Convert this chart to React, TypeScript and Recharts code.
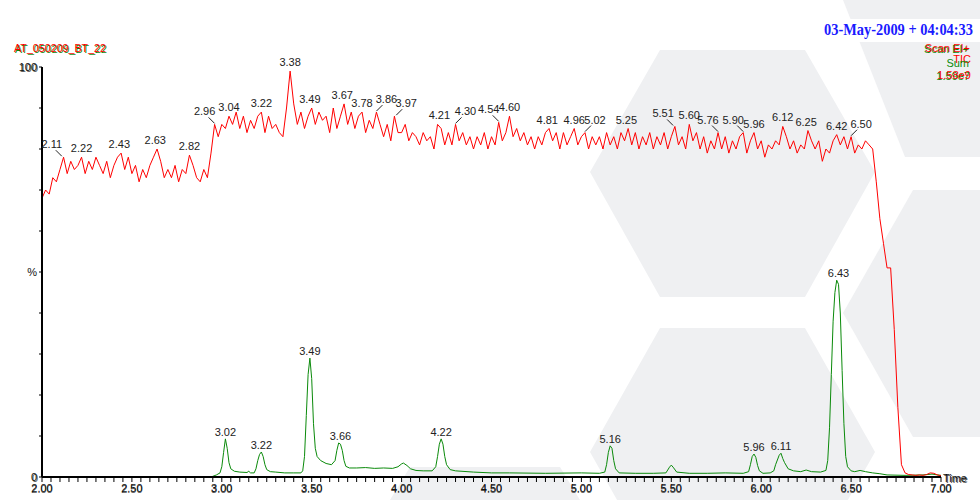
import React from "react";
import { LineChart, Line, XAxis, YAxis, ReferenceDot } from "recharts";

// TIC trace (red), one reading every 0.02 min from 2.00 to 7.00
const ticStart = 2.0;
const ticStep = 0.02;
const ticValues = [
  68, 70, 69, 73, 72, 75, 78, 74, 77, 75,
  76, 78, 74, 77, 75, 78, 76, 74, 77, 73,
  76, 78, 79, 75, 78, 74, 76, 72, 75, 73,
  76, 78, 80, 77, 73, 75, 73, 76, 72, 75,
  74, 78.5, 76, 73, 72, 75, 73, 79, 86, 83,
  86, 85, 88, 86, 89, 85, 88, 84, 87, 85,
  88, 89, 84, 88, 85, 86, 84, 83, 90, 99,
  91, 86, 89, 85, 88, 90, 86, 89, 87, 88,
  84, 90, 85, 88, 91, 86, 89, 85, 88, 89,
  84, 87, 85, 89, 86, 83, 86, 82, 88, 84,
  84, 86, 82, 84, 83, 81, 84, 82, 83, 80,
  86, 85, 81, 84, 81, 86, 82, 84, 81, 83,
  80, 83, 81, 84, 80, 83, 81, 86.5, 82, 84,
  88, 83, 85, 82, 84, 81, 83, 80, 83, 81,
  84, 85, 82, 84, 80, 84, 81, 83, 85, 81,
  83, 84, 80, 83, 81, 83, 80, 84, 81, 83,
  80, 84, 82, 85, 81, 84, 80, 83, 81, 84,
  80, 83, 81, 84, 80, 83, 85.5, 81, 83, 80,
  86, 82, 84, 80, 83, 79, 82, 80, 84, 80,
  83, 79, 82, 80, 83, 84, 79, 82, 84, 80,
  82, 78, 81, 80, 82, 81, 85.5, 83, 80, 82,
  79, 81, 80, 84.5, 82, 80, 82, 77, 80, 79,
  82, 83.5, 81, 83, 80, 83, 79, 81, 80, 82,
  81, 80, 72, 63, 57, 51, 51, 36, 17, 3,
  1.0, 0.6, 0.5, 0.4, 0.5, 0.4, 0.6, 1.0, 0.9, 0.5,
  0.3,
];

// summed ion trace (green)
const sumTimes = [
  2.0, 2.94, 2.97, 2.99, 3.0, 3.01, 3.02, 3.03, 3.04, 3.05, 3.07, 3.1, 3.14, 3.15, 3.16, 3.18,
  3.19, 3.2, 3.21, 3.22, 3.23, 3.24, 3.25, 3.27, 3.3, 3.35, 3.4, 3.44, 3.45, 3.46, 3.47, 3.48,
  3.49, 3.5, 3.51, 3.52, 3.53, 3.55, 3.58, 3.61, 3.63, 3.64, 3.65, 3.66, 3.67, 3.68, 3.69, 3.71,
  3.75, 3.8, 3.85, 3.9, 3.95, 3.98, 4.0, 4.01, 4.03, 4.05, 4.08, 4.12, 4.17, 4.19, 4.2, 4.21,
  4.22, 4.23, 4.24, 4.25, 4.27, 4.3, 4.4, 4.5, 4.6, 4.8, 5.0, 5.1, 5.13, 5.14, 5.15, 5.16,
  5.17, 5.18, 5.19, 5.21, 5.3, 5.4, 5.47, 5.49, 5.5, 5.51, 5.53, 5.6, 5.7, 5.8, 5.9, 5.93,
  5.94, 5.95, 5.96, 5.97, 5.98, 5.99, 6.01, 6.05, 6.07, 6.08, 6.1, 6.11, 6.12, 6.13, 6.15, 6.18,
  6.22, 6.25, 6.28, 6.33, 6.36, 6.37, 6.38, 6.39, 6.4, 6.41, 6.42, 6.43, 6.44, 6.45, 6.46, 6.47,
  6.48, 6.5, 6.52, 6.55, 6.58, 6.62, 6.66, 6.7, 6.8, 6.9, 6.95, 7.0,
];
const sumValues = [
  0, 0, 0.5, 1.0, 2.5, 6, 9.3, 7, 3.5, 2, 1.4, 1.2, 1.1, 1.4, 1.0, 1.0,
  2, 4, 5.5, 6.1, 5, 3, 1.8, 1.3, 1.2, 1.0, 1.0, 1.0, 1.5, 5, 15, 25,
  29, 24, 13, 7, 5, 4, 3.3, 3, 4, 6.5, 8.3, 8, 6.5, 4, 2.6, 2.2,
  2.2, 2.3, 2.1, 2.2, 2.1, 2.5, 3.2, 3.4, 2.8, 2, 1.6, 1.5, 1.5, 2.5, 5, 8,
  9.3, 8, 5, 3, 1.8, 1.5, 1.2, 1.0, 1.0, 0.9, 1.0, 0.9, 1.2, 3, 6, 7.6,
  7, 4, 2, 1.0, 0.9, 0.9, 1.0, 2.4, 2.9, 2.4, 1.2, 0.9, 0.9, 1.0, 0.9, 1.3,
  3, 5, 5.6, 4.8, 2.8, 1.5, 0.9, 1.0, 1.5, 3, 5.3, 5.8, 4.5, 3.5, 2, 1.5,
  1.3, 1.7, 1.3, 1.2, 1.6, 4, 12, 25, 38, 45, 48, 47, 40, 26, 13, 5,
  2.5, 1.5, 1.3, 1.6, 1.3, 1.0, 0.8, 0.5, 0.4, 0.5, 0.7, 0.4,
];

const ticPeaks = [
  "2.11", "2.22", "2.43", "2.63", "2.82", "2.96", "3.04", "3.22", "3.38", "3.49", "3.67",
  "3.78", "3.86", "3.97", "4.21", "4.30", "4.54", "4.60", "4.81", "4.96", "5.02", "5.25",
  "5.51", "5.60", "5.76", "5.90", "5.96", "6.12", "6.25", "6.42", "6.50",
];
const sumPeaks = ["3.02", "3.22", "3.49", "3.66", "4.22", "5.16", "5.96", "6.11", "6.43"];
// labels the labeller pushed aside, drawn with a leader (-1 = left, 1 = right)
const ticShifted: Record<string, number> = {
  "2.11": -1, "2.96": -1, "3.86": 1, "3.97": 1, "4.30": 1, "4.54": -1,
  "5.02": 1, "5.51": -1, "5.76": -1, "5.90": -1, "6.50": 1,
};

const timeLabels = ["2.00", "2.50", "3.00", "3.50", "4.00", "4.50", "5.00", "5.50", "6.00", "6.50", "7.00"];
const percentLabels: Record<number, string> = { 0: "0", 50: "%", 100: "100" };

const FONT = "'Liberation Sans', Arial, sans-serif";
const RED = "#ff0000";
const GREEN = "#0a8a0a";

const ticData = ticValues.map((v, i) => ({ t: +(ticStart + i * ticStep).toFixed(2), v }));
const sumData = sumTimes.map((t, i) => ({ t, v: sumValues[i] }));

const xTicks = Array.from({ length: 101 }, (_, i) => +(2 + i * 0.05).toFixed(2));
const yTicks = Array.from({ length: 11 }, (_, i) => i * 10);

function localMax(data: { t: number; v: number }[], t: number, w: number) {
  let best = 0;
  for (const p of data) if (Math.abs(p.t - t) <= w + 1e-6 && p.v > best) best = p.v;
  return best;
}

function PeakTag({ viewBox, text, shift = 0, gap }: any) {
  const cx = viewBox.x + viewBox.width / 2;
  const cy = viewBox.y + viewBox.height / 2;
  const tx = cx + shift * 10;
  const ty = cy - gap - (shift ? 4 : 0);
  return (
    <g>
      {shift !== 0 && (
        <line x1={tx - shift * 4} y1={ty + 6} x2={cx} y2={cy - 1} stroke="#222" strokeWidth={1} />
      )}
      <text x={tx} y={ty} textAnchor="middle" dominantBaseline="central" fontSize={11} fontFamily={FONT} fill="#222">
        {text}
      </text>
    </g>
  );
}

function TimeTick({ x, y, payload }: any) {
  const idx = Math.round((payload.value - 2) / 0.05);
  if (idx % 10 !== 0) return <g />;
  const label = timeLabels[idx / 10];
  return (
    <g fontSize={11} fontFamily={FONT} textAnchor="middle">
      <text x={x} y={y + 1.5} dy="0.71em" fill="#555">{label}</text>
      <text x={x} y={y} dy="0.71em" fill="#111">{label}</text>
    </g>
  );
}

function PercentTick({ x, y, payload }: any) {
  const label = percentLabels[payload.value];
  if (!label) return <g />;
  return (
    <g fontSize={11} fontFamily={FONT} textAnchor="end">
      {label !== "%" && (
        <text x={x + 1} y={y + 1} dominantBaseline="central" fill="#555">{label}</text>
      )}
      <text x={x} y={y} dominantBaseline="central" fill="#111">{label}</text>
    </g>
  );
}

function Watermark() {
  const fill = "#eff0f2";
  return (
    <svg width={980} height={500} style={{ position: "absolute", left: 0, top: 0 }}>
      <polygon points="590,172 660,50 805,50 875,172 805,297 660,297" fill={fill} />
      <polygon points="590,452 660,328 805,328 875,452 805,576 660,576" fill={fill} />
      <polygon points="843,0 980,0 980,157 905,157" fill={fill} />
      <polygon points="913,190 980,190 980,437 913,437 843,313" fill={fill} />
      <polygon points="410,467 560,467 580,500 390,500" fill={fill} />
    </svg>
  );
}

function Header() {
  return (
    <svg width={980} height={500} style={{ position: "absolute", left: 0, top: 0, pointerEvents: "none" }}>
      <rect x={820} y={19} width={160} height={23} fill="#fff" />
      <text x={824} y={35} textLength={149} lengthAdjust="spacingAndGlyphs" fontSize={17} fontWeight="bold"
        fontFamily="'Liberation Serif', 'Times New Roman', serif" fill="#1a1aff">
        03-May-2009 + 04:04:33
      </text>
      <g fontSize={11} fontFamily={FONT}>
        <text x={15} y={53} textLength={92} lengthAdjust="spacingAndGlyphs" fill={GREEN}>AT_050209_BT_22</text>
        <text x={14} y={52} textLength={92} lengthAdjust="spacingAndGlyphs" fill={RED}>AT_050209_BT_22</text>
      </g>
      <g fontSize={11} fontFamily={FONT} textAnchor="end">
        <text x={969} y={53} fill={GREEN}>Scan EI+</text>
        <text x={970} y={52} fill={RED}>Scan EI+</text>
        <text x={971} y={63} fill={RED}>TIC</text>
        <text x={969} y={67} fill={GREEN}>Sum</text>
        <text x={970} y={80} fill={GREEN}>1.59e7</text>
        <text x={971} y={79} fill={RED}>1.58e9</text>
        <text x={968} y={483} fill="#555" textAnchor="end">Time</text>
        <text x={967} y={482} fill="#111" textAnchor="end">Time</text>
      </g>
    </svg>
  );
}

export default function App() {
  return (
    <div style={{ position: "fixed", left: 0, top: 0, width: 980, height: 500, background: "#fff", overflow: "hidden" }}>
      <Watermark />
      <div style={{ position: "absolute", left: 0, top: 0 }}>
        <LineChart width={980} height={500} margin={{ top: 67, right: 39, bottom: 0, left: 2 }}>
          <XAxis
            type="number"
            dataKey="t"
            domain={[2, 7]}
            ticks={xTicks}
            interval={0}
            allowDataOverflow
            height={23}
            tickSize={5}
            tickMargin={2}
            tick={<TimeTick />}
            tickLine={{ stroke: "#000" }}
            axisLine={{ stroke: "#000", strokeWidth: 2 }}
          />
          <YAxis
            type="number"
            domain={[0, 100]}
            ticks={yTicks}
            interval={0}
            allowDataOverflow
            width={40}
            tickSize={3}
            tickMargin={2}
            tick={<PercentTick />}
            tickLine={{ stroke: "#000" }}
            axisLine={{ stroke: "#000", strokeWidth: 2 }}
          />
          <Line
            data={sumData}
            dataKey="v"
            type="linear"
            stroke={GREEN}
            strokeWidth={1}
            dot={false}
            isAnimationActive={false}
          />
          <Line
            data={ticData}
            dataKey="v"
            type="linear"
            stroke={RED}
            strokeWidth={1}
            dot={false}
            isAnimationActive={false}
          />
          {ticPeaks.map((p) => (
            <ReferenceDot
              key={"tic" + p}
              x={Number(p)}
              y={localMax(ticData, Number(p), 0.02)}
              r={0}
              fill="none"
              stroke="none"
              ifOverflow="visible"
              label={<PeakTag text={p} shift={ticShifted[p] || 0} gap={9} />}
            />
          ))}
          {sumPeaks.map((p) => (
            <ReferenceDot
              key={"sum" + p}
              x={Number(p)}
              y={localMax(sumData, Number(p), 0.015)}
              r={0}
              fill="none"
              stroke="none"
              ifOverflow="visible"
              label={<PeakTag text={p} gap={7} />}
            />
          ))}
        </LineChart>
      </div>
      <Header />
    </div>
  );
}
